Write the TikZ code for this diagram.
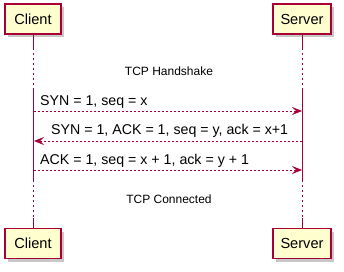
\documentclass[tikz,border=0pt]{standalone}
\usepackage{fontspec}
\setmainfont{Liberation Sans}
\usetikzlibrary{arrows.meta,shadows}
\definecolor{pborder}{HTML}{A80036}
\definecolor{pfill}{HTML}{FEFECE}
\begin{document}
\begin{tikzpicture}[x=1pt,y=-1pt,
  part/.style={draw=pborder, fill=pfill, line width=1.2pt, minimum height=30pt, inner sep=0pt,
    font=\fontsize{14.6}{16}\selectfont,
    drop shadow={shadow xshift=3pt, shadow yshift=-3pt, opacity=0.3, fill=black!70}},
  life/.style={draw=pborder, line width=0.9pt},
  lifedot/.style={draw=pborder, line width=0.9pt, dash pattern=on 2pt off 3pt},
  msg/.style={draw=pborder, line width=0.9pt, dash pattern=on 2pt off 2pt,
    -{Stealth[length=10pt,width=8pt,inset=4pt,fill=pborder]}},
  lbl/.style={inner sep=0pt, anchor=base west, font=\fontsize{14.2}{16}\selectfont},
  divtxt/.style={inner sep=0pt, anchor=base, font=\fontsize{12}{14}\selectfont}]
\useasboundingbox (0,0) rectangle (344,272);
\fill[white] (0,0) rectangle (344,272);
% participants
\node[part, minimum width=56pt] (ctop) at (33,19) {Client};
\node[part, minimum width=58pt] (stop) at (302,19) {Server};
\node[part, minimum width=56pt] (cbot) at (33,243.5) {Client};
\node[part, minimum width=58pt] (sbot) at (302,243.5) {Server};
% lifeline break points
\coordinate (ca) at (33,48);  \coordinate (cb) at (33,90);
\coordinate (cc) at (33,180); \coordinate (cd) at (33,218);
\coordinate (sa) at (302,48);  \coordinate (sb) at (302,90);
\coordinate (sc) at (302,180); \coordinate (sd) at (302,218);
\begin{scope}[on background layer/.style={}]
\draw[life] (ctop.south) -- (ca);
\draw[lifedot] (ca) -- (cb);
\draw[life] (cb) -- (cc);
\draw[lifedot] (cc) -- (cd);
\draw[life] (cd) -- (cbot.north);
\draw[life] (stop.south) -- (sa);
\draw[lifedot] (sa) -- (sb);
\draw[life] (sb) -- (sc);
\draw[lifedot] (sc) -- (sd);
\draw[life] (sd) -- (sbot.north);
\end{scope}
% dividers
\node[divtxt] (d1) at (169,76) {TCP Handshake};
\node[divtxt] (d2) at (169,203.5) {TCP Connected};
% messages
\coordinate (c1) at (33.5,111); \coordinate (s1) at (302,111);
\coordinate (c2) at (34,141);   \coordinate (s2) at (302,141);
\coordinate (c3) at (33.5,170); \coordinate (s3) at (302,170);
\draw[msg] (c1) -- (s1);
\draw[msg] (s2) -- (c2);
\draw[msg] (c3) -- (s3);
\node[lbl] (m1) at (40,106) {SYN = 1, seq = x};
\node[lbl] (m2) at (51,135) {SYN = 1, ACK = 1, seq = y, ack = x+1};
\node[lbl] (m3) at (40,164) {ACK = 1, seq = x + 1, ack = y + 1};
\end{tikzpicture}
\end{document}
